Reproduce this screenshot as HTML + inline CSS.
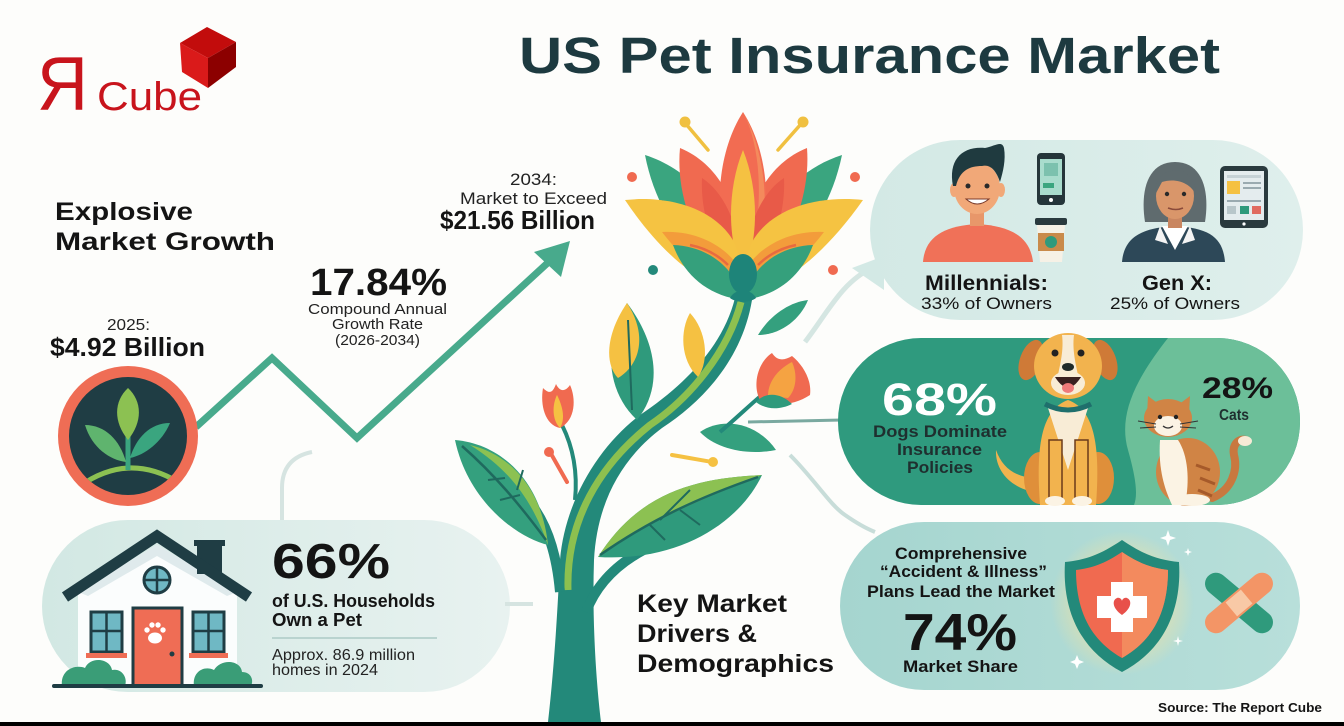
<!DOCTYPE html>
<html><head><meta charset="utf-8"><style>
html,body{margin:0;padding:0;background:#fdfdfb;}
svg{display:block;}
text{font-family:"Liberation Sans",sans-serif;}
</style></head><body>
<svg width="1344" height="726" viewBox="0 0 1344 726" xmlns="http://www.w3.org/2000/svg">
<defs>
<linearGradient id="hp" x1="0" x2="1" y1="0" y2="0"><stop offset="0" stop-color="#d2e8e3"/><stop offset="1" stop-color="#e8f2f0"/></linearGradient>
<linearGradient id="ip" x1="0" x2="1" y1="0" y2="0"><stop offset="0" stop-color="#a5d5cf"/><stop offset="1" stop-color="#b8dfda"/></linearGradient>
<linearGradient id="dp" x1="0" x2="1" y1="0" y2="0"><stop offset="0" stop-color="#d3e9e5"/><stop offset="1" stop-color="#dfefec"/></linearGradient>
<radialGradient id="glow"><stop offset="0" stop-color="#fbe49a" stop-opacity="0.95"/><stop offset="0.6" stop-color="#fbe49a" stop-opacity="0.5"/><stop offset="1" stop-color="#fbe49a" stop-opacity="0"/></radialGradient>
<clipPath id="pc"><rect x="838" y="338" width="462" height="167" rx="83"/></clipPath>
<clipPath id="cc"><circle cx="128" cy="436" r="59"/></clipPath>
</defs>
<rect width="1344" height="726" fill="#fdfdfb"/>

<!-- Logo -->
<text x="37" y="110" font-size="76" fill="#c8141c" textLength="51" lengthAdjust="spacingAndGlyphs">Я</text>
<text x="97" y="110" font-size="40" fill="#c8141c" textLength="105" lengthAdjust="spacingAndGlyphs">Cube</text>
<polygon points="207,27 236,42 208,58 180,43" fill="#c20c0c"/>
<polygon points="180,43 208,58 208,88 182,72" fill="#da1a1a"/>
<polygon points="208,58 236,42 236,67 208,88" fill="#8c0000"/>

<!-- Title -->
<text x="519" y="73" font-size="51" font-weight="700" fill="#1d3a40" textLength="701" lengthAdjust="spacingAndGlyphs">US Pet Insurance Market</text>

<!-- Explosive Market Growth -->
<text x="55" y="220" font-size="25" font-weight="700" fill="#141414" textLength="138" lengthAdjust="spacingAndGlyphs">Explosive</text>
<text x="55" y="250" font-size="25" font-weight="700" fill="#141414" textLength="220" lengthAdjust="spacingAndGlyphs">Market Growth</text>

<text x="107" y="330" font-size="16" fill="#222" textLength="43" lengthAdjust="spacingAndGlyphs">2025:</text>
<text x="50" y="356" font-size="26" font-weight="700" fill="#141414" textLength="155" lengthAdjust="spacingAndGlyphs">$4.92 Billion</text>

<text x="310" y="295" font-size="38" font-weight="700" fill="#141414" textLength="137" lengthAdjust="spacingAndGlyphs">17.84%</text>
<text x="308" y="314" font-size="15" fill="#222" textLength="139" lengthAdjust="spacingAndGlyphs">Compound Annual</text>
<text x="332" y="329" font-size="15" fill="#222" textLength="91" lengthAdjust="spacingAndGlyphs">Growth Rate</text>
<text x="335" y="345" font-size="15" fill="#222" textLength="85" lengthAdjust="spacingAndGlyphs">(2026-2034)</text>

<text x="510" y="185" font-size="17" fill="#222" textLength="47" lengthAdjust="spacingAndGlyphs">2034:</text>
<text x="460" y="204" font-size="17" fill="#222" textLength="147" lengthAdjust="spacingAndGlyphs">Market to Exceed</text>
<text x="440" y="229" font-size="26" font-weight="700" fill="#141414" textLength="155" lengthAdjust="spacingAndGlyphs">$21.56 Billion</text>

<!-- Zigzag growth line -->
<polyline points="196,427 272,358 357,438 553,258" fill="none" stroke="#48aa8c" stroke-width="7" stroke-linejoin="miter"/>
<polygon points="570,241 534,252 561,277" fill="#48aa8c"/>

<!-- Circle icon -->
<circle cx="128" cy="436" r="70" fill="#ef6d55"/>
<circle cx="128" cy="436" r="59" fill="#1f3d44"/>
<g clip-path="url(#cc)">
<path d="M80,486 Q128,452 178,482" stroke="#8cc152" stroke-width="5" fill="none"/>
</g>
<path d="M128,470 L128,412" stroke="#3aa57f" stroke-width="5" fill="none"/>
<path d="M128,440 C112,420 115,400 128,388 C141,400 144,420 128,440Z" fill="#8cc152"/>
<path d="M126,462 C110,460 92,448 85,425 C105,425 120,440 126,462Z" fill="#5fb46e"/>
<path d="M130,458 C145,455 162,442 170,423 C150,423 136,438 130,458Z" fill="#3aa57f"/>

<!-- House pill -->
<path d="M282,521 L282,488 Q282,458 312,452" stroke="#d6e4e1" stroke-width="4" fill="none"/>
<rect x="42" y="520" width="468" height="172" rx="86" fill="url(#hp)"/>
<line x1="505" y1="604" x2="533" y2="604" stroke="#d6e4e1" stroke-width="4"/>

<!-- House -->
<polygon points="78,592 157,545 237,592 237,686 78,686" fill="#fbfdfd"/>
<polygon points="157,545 78,592 88,596 157,556 227,596 237,592" fill="#dfeaec"/>
<rect x="197" y="544" width="25" height="30" fill="#1f3d44"/>
<rect x="194" y="540" width="31" height="6" fill="#1f3d44"/>
<polyline points="65,597 157,536 249,597" fill="none" stroke="#1f3d44" stroke-width="11" stroke-linejoin="miter"/>
<circle cx="157" cy="580" r="13" fill="#6fb8c4" stroke="#1f3d44" stroke-width="3"/>
<line x1="144" y1="580" x2="170" y2="580" stroke="#1f3d44" stroke-width="2.5"/>
<line x1="157" y1="567" x2="157" y2="593" stroke="#1f3d44" stroke-width="2.5"/>
<rect x="133" y="608" width="49" height="78" fill="#ef6d55" stroke="#1f3d44" stroke-width="3"/>
<ellipse cx="155" cy="638" rx="7" ry="5.5" fill="#fff"/>
<circle cx="147" cy="630" r="2.7" fill="#fff"/><circle cx="152" cy="625" r="2.7" fill="#fff"/>
<circle cx="158" cy="625" r="2.7" fill="#fff"/><circle cx="163" cy="630" r="2.7" fill="#fff"/>
<circle cx="172" cy="654" r="2.5" fill="#1f3d44"/>
<rect x="91" y="612" width="31" height="40" fill="#6fb8c4" stroke="#1f3d44" stroke-width="3"/>
<line x1="106.5" y1="612" x2="106.5" y2="652" stroke="#1f3d44" stroke-width="2.5"/>
<line x1="91" y1="631" x2="122" y2="631" stroke="#1f3d44" stroke-width="2.5"/>
<rect x="193" y="612" width="31" height="40" fill="#6fb8c4" stroke="#1f3d44" stroke-width="3"/>
<line x1="208.5" y1="612" x2="208.5" y2="652" stroke="#1f3d44" stroke-width="2.5"/>
<line x1="193" y1="631" x2="224" y2="631" stroke="#1f3d44" stroke-width="2.5"/>
<rect x="86" y="653" width="41" height="5" fill="#ef6d55"/>
<rect x="189" y="653" width="39" height="5" fill="#ef6d55"/>
<path d="M62,686 C60,670 75,664 85,668 C90,656 110,658 112,670 C122,668 128,678 125,686 Z" fill="#3a9d77"/>
<path d="M194,686 C192,672 204,665 214,670 C221,658 241,660 242,672 C251,672 254,680 251,686 Z" fill="#3a9d77"/>
<line x1="54" y1="686" x2="261" y2="686" stroke="#1f3d44" stroke-width="4" stroke-linecap="round"/>

<text x="272" y="578" font-size="49" font-weight="700" fill="#141414" textLength="118" lengthAdjust="spacingAndGlyphs">66%</text>
<text x="272" y="607" font-size="18" font-weight="700" fill="#141414" textLength="163" lengthAdjust="spacingAndGlyphs">of U.S. Households</text>
<text x="272" y="626" font-size="18" font-weight="700" fill="#141414" textLength="90" lengthAdjust="spacingAndGlyphs">Own a Pet</text>
<line x1="272" y1="638" x2="437" y2="638" stroke="#b9d3cf" stroke-width="2"/>
<text x="272" y="660" font-size="15.5" fill="#222" textLength="143" lengthAdjust="spacingAndGlyphs">Approx. 86.9 million</text>
<text x="272" y="675" font-size="15.5" fill="#222" textLength="106" lengthAdjust="spacingAndGlyphs">homes in 2024</text>

<!-- Connectors right side -->
<path d="M805,342 C828,312 842,282 872,268" stroke="#d5e6e2" stroke-width="5" fill="none"/>
<line x1="748" y1="422" x2="842" y2="420" stroke="#7aa9a0" stroke-width="3"/>
<path d="M790,455 C815,480 830,505 845,515 C855,522 865,528 875,532" stroke="#c8ddd9" stroke-width="4" fill="none"/>

<!-- Tree -->
<path d="M548,722 C555,660 558,600 560,560 C565,500 600,445 640,415 C680,388 722,350 735,298 L752,300 C742,360 702,402 662,428 C622,458 597,502 594,560 C592,620 596,680 601,722 Z" fill="#23897a"/>
<path d="M568,590 C566,520 600,465 650,425 C690,398 728,352 741,302" stroke="#8dc04f" stroke-width="7" fill="none"/>
<path d="M560,592 C556,545 542,512 520,492" stroke="#23897a" stroke-width="10" fill="none"/>
<path d="M586,612 C600,575 632,550 680,535" stroke="#23897a" stroke-width="10" fill="none"/>
<!-- left big leaf -->
<path d="M548,545 C518,538 468,502 455,440 C502,444 542,482 548,545 Z" fill="#34a07e"/>
<path d="M548,545 C542,490 512,455 470,445 C510,470 532,500 548,545 Z" fill="#8cc152"/>
<path d="M546,540 C520,505 495,475 462,446" stroke="#1f6a5e" stroke-width="2.5" fill="none"/>
<path d="M505,478 L488,480 M520,495 L500,500 M517,490 L523,470" stroke="#1f6a5e" stroke-width="2" fill="none"/>
<!-- right big leaf -->
<path d="M598,557 C640,490 700,478 762,475 C740,522 680,562 598,557 Z" fill="#2f9a7c"/>
<path d="M598,557 C640,490 700,478 762,475 C700,500 650,520 598,557 Z" fill="#8cc152"/>
<path d="M600,555 C650,520 700,497 758,477" stroke="#1f6a5e" stroke-width="2.5" fill="none"/>
<path d="M650,525 L665,540 M680,510 L700,525 M660,520 L690,490" stroke="#1f6a5e" stroke-width="2" fill="none"/>
<!-- small leaf right of stem -->
<path d="M700,432 C720,418 755,420 776,450 C745,456 715,448 700,432 Z" fill="#34a07e"/>
<!-- left bud -->
<path d="M575,500 C578,470 572,445 562,425" stroke="#23897a" stroke-width="4" fill="none"/>
<path d="M560,428 C545,425 540,405 543,388 C550,395 553,392 556,384 C560,392 565,392 570,385 C576,398 576,420 560,428 Z" fill="#f06a50"/>
<path d="M560,428 C552,420 552,405 557,395 C562,405 566,418 560,428 Z" fill="#f5c142"/>
<!-- right bud -->
<path d="M720,432 C740,415 755,400 768,390" stroke="#23897a" stroke-width="4" fill="none"/>
<path d="M760,400 C752,385 758,362 772,353 C778,362 785,360 792,356 C803,365 812,380 810,395 C795,405 772,408 760,400 Z" fill="#f06a50"/>
<path d="M768,396 C768,380 780,368 792,362 C798,375 796,390 788,398 Z" fill="#f5a342"/>
<path d="M756,402 C765,392 780,392 792,404 C780,410 766,410 756,402 Z" fill="#2f9a7c"/>
<!-- upper-left leaves -->
<path d="M637,420 C610,395 600,350 627,303 C655,340 665,385 637,420 Z" fill="#2f9a7c"/>
<path d="M627,303 C605,335 605,365 618,378 C640,365 648,335 627,303 Z" fill="#f5c142"/>
<path d="M628,320 L632,410" stroke="#1f6a5e" stroke-width="2" fill="none"/>
<path d="M698,377 C680,360 680,330 690,313 C706,330 710,360 698,377 Z" fill="#f5c142"/>
<path d="M758,335 C770,315 790,302 808,300 C800,320 780,335 758,335 Z" fill="#34a07e"/>
<!-- small decorative sticks -->
<path d="M550,452 L567,482" stroke="#f06a50" stroke-width="4" stroke-linecap="round"/>
<circle cx="549" cy="452" r="5" fill="#f06a50"/>
<path d="M672,455 C690,458 700,460 712,462" stroke="#f5c142" stroke-width="4" stroke-linecap="round" fill="none"/>
<circle cx="713" cy="462" r="5" fill="#f5c142"/>

<!-- Flower -->
<circle cx="632" cy="177" r="5" fill="#f06a50"/>
<circle cx="855" cy="177" r="5" fill="#f06a50"/>
<circle cx="653" cy="270" r="5" fill="#23897a"/>
<circle cx="833" cy="270" r="5" fill="#f06a50"/>
<path d="M708,150 L686,124" stroke="#f0c040" stroke-width="3.5" stroke-linecap="round"/>
<circle cx="685" cy="122" r="5.5" fill="#f0c040"/>
<path d="M778,150 L801,124" stroke="#f0c040" stroke-width="3.5" stroke-linecap="round"/>
<circle cx="803" cy="122" r="5.5" fill="#f0c040"/>
<path d="M743,278 C700,268 658,222 645,155 C692,170 728,212 743,278 Z" fill="#3aa57f"/>
<path d="M743,278 C786,268 828,222 842,155 C795,170 758,212 743,278 Z" fill="#3aa57f"/>
<path d="M743,282 C708,272 672,240 662,200 C700,210 730,240 743,282 Z" fill="#1e7d76"/>
<path d="M743,282 C778,272 814,240 824,200 C786,210 756,240 743,282 Z" fill="#1e7d76"/>
<path d="M743,278 C700,262 675,200 680,148 C722,165 746,215 743,278 Z" fill="#f06a50"/>
<path d="M743,278 C786,262 811,200 807,148 C764,165 740,215 743,278 Z" fill="#f06a50"/>
<path d="M743,282 C712,240 712,160 743,112 C774,160 774,240 743,282 Z" fill="#f26c52"/>
<path d="M743,282 C760,240 768,160 743,112 C770,160 774,240 743,282 Z" fill="#f48a5c"/>
<path d="M743,280 C718,262 700,220 702,178 C728,195 742,235 743,280 Z" fill="#e85a48"/>
<path d="M743,280 C768,262 786,220 784,178 C758,195 744,235 743,280 Z" fill="#e85a48"/>
<path d="M743,275 C727,240 727,190 743,150 C759,190 759,240 743,275 Z" fill="#f5c142"/>
<path d="M740,293 C705,288 664,258 625,200 C672,195 716,210 734,242 C742,262 744,282 740,293 Z" fill="#f5c342"/>
<path d="M740,290 C712,284 685,262 662,232 C695,230 722,245 735,262 C741,275 742,285 740,290 Z" fill="#f39c3b"/>
<path d="M746,293 C781,288 822,258 863,200 C814,195 770,210 752,242 C744,262 742,282 746,293 Z" fill="#f5c342"/>
<path d="M746,290 C774,284 801,262 824,232 C791,230 764,245 751,262 C745,275 744,285 746,290 Z" fill="#f39c3b"/>
<path d="M690,245 C705,248 718,255 728,265 M700,262 C710,265 720,272 728,280" stroke="#e86a40" stroke-width="2.5" fill="none"/>
<path d="M796,245 C781,248 768,255 758,265 M786,262 C776,265 766,272 758,280" stroke="#e86a40" stroke-width="2.5" fill="none"/>
<path d="M743,300 C708,296 684,275 673,245 C706,246 735,266 743,300 Z" fill="#35a07c"/>
<path d="M743,300 C778,296 802,275 813,245 C780,246 751,266 743,300 Z" fill="#35a07c"/>
<ellipse cx="743" cy="274" rx="14" ry="20" fill="#1e8479"/>
<path d="M730,298 C735,288 751,288 756,298 C750,303 736,303 730,298 Z" fill="#1e8479"/>

<!-- Key Market Drivers -->
<text x="637" y="612" font-size="25" font-weight="700" fill="#141414" textLength="150" lengthAdjust="spacingAndGlyphs">Key Market</text>
<text x="637" y="642" font-size="25" font-weight="700" fill="#141414" textLength="120" lengthAdjust="spacingAndGlyphs">Drivers &amp;</text>
<text x="637" y="672" font-size="25" font-weight="700" fill="#141414" textLength="197" lengthAdjust="spacingAndGlyphs">Demographics</text>

<!-- Demographics pill -->
<path d="M884,256 L852,268 L884,290 Z" fill="#d3e9e5"/>
<rect x="870" y="140" width="433" height="180" rx="90" fill="url(#dp)"/>
<!-- man -->
<path d="M923,262 C925,236 945,226 977,224 C1010,226 1030,236 1033,262 Z" fill="#f07158"/>
<rect x="970" y="208" width="14" height="18" fill="#e8976a"/>
<ellipse cx="954" cy="190" rx="4" ry="7" fill="#f1a878"/>
<ellipse cx="1001" cy="190" rx="4" ry="7" fill="#f1a878"/>
<ellipse cx="977" cy="188" rx="23" ry="26" fill="#f1a878"/>
<path d="M953,186 C948,160 962,146 985,148 C995,146 1002,140 1004,148 C1006,160 1003,172 1000,182 C996,170 990,164 982,166 C970,166 960,170 956,186 Z" fill="#1f3a3f"/>
<circle cx="968" cy="186" r="2.5" fill="#2a2a2a"/><circle cx="987" cy="186" r="2.5" fill="#2a2a2a"/>
<path d="M966,199 Q977,209 989,199 Z" fill="#fff" stroke="#7a3a2a" stroke-width="1"/>
<!-- phone -->
<rect x="1037" y="153" width="28" height="52" rx="4" fill="#25353a"/>
<rect x="1040" y="159" width="22" height="36" fill="#a9dccd"/>
<rect x="1044" y="163" width="14" height="13" fill="#7cc1ae"/>
<rect x="1043" y="183" width="11" height="5" fill="#3aa57f"/>
<circle cx="1051" cy="200" r="2" fill="#fff"/>
<!-- cup -->
<rect x="1035" y="218" width="32" height="7" rx="2" fill="#2a3a3e"/>
<path d="M1037,225 L1065,225 L1062,262 L1040,262 Z" fill="#f6f1e6"/>
<rect x="1038" y="233" width="26" height="18" fill="#c98a4a"/>
<circle cx="1051" cy="242" r="6" fill="#2f9a7c"/>
<!-- woman -->
<path d="M1145,222 C1140,190 1148,162 1175,162 C1202,162 1210,190 1205,222 Z" fill="#5f6b6e"/>
<path d="M1122,262 C1124,238 1140,228 1175,226 C1210,228 1223,238 1225,262 Z" fill="#2d4858"/>
<path d="M1162,226 L1175,250 L1188,226 Z" fill="#fff"/>
<path d="M1160,226 L1168,244 L1155,240 Z M1190,226 L1182,244 L1195,240 Z" fill="#f4f4f4"/>
<rect x="1168" y="212" width="14" height="16" fill="#c98660"/>
<ellipse cx="1175" cy="196" rx="19" ry="23" fill="#d9966a"/>
<path d="M1155,195 C1155,172 1170,168 1185,172 C1192,178 1196,185 1196,195 C1190,182 1175,178 1162,182 Z" fill="#5f6b6e"/>
<circle cx="1167" cy="194" r="2.2" fill="#2a2a2a"/><circle cx="1184" cy="194" r="2.2" fill="#2a2a2a"/>
<path d="M1168,208 Q1176,211 1183,208" stroke="#8a4a3a" stroke-width="1.5" fill="none"/>
<!-- tablet -->
<rect x="1220" y="166" width="48" height="62" rx="5" fill="#2a3a3e"/>
<rect x="1224" y="171" width="40" height="49" fill="#e4ecee"/>
<rect x="1227" y="181" width="13" height="13" fill="#f5c142"/>
<rect x="1243" y="182" width="18" height="2" fill="#9aaab0"/><rect x="1243" y="187" width="18" height="2" fill="#9aaab0"/>
<rect x="1227" y="175" width="34" height="3" fill="#c6d2d6"/>
<rect x="1227" y="200" width="34" height="2" fill="#9aaab0"/>
<rect x="1227" y="206" width="9" height="8" fill="#b8c6ca"/><rect x="1240" y="206" width="9" height="8" fill="#2f9a7c"/><rect x="1252" y="206" width="9" height="8" fill="#e06a60"/>
<circle cx="1244" cy="224" r="1.6" fill="#fff"/>
<text x="925" y="290" font-size="21" font-weight="700" fill="#141414" textLength="123" lengthAdjust="spacingAndGlyphs">Millennials:</text>
<text x="921" y="309" font-size="17" fill="#141414" textLength="131" lengthAdjust="spacingAndGlyphs">33% of Owners</text>
<text x="1142" y="290" font-size="21" font-weight="700" fill="#141414" textLength="70" lengthAdjust="spacingAndGlyphs">Gen X:</text>
<text x="1110" y="309" font-size="17" fill="#141414" textLength="130" lengthAdjust="spacingAndGlyphs">25% of Owners</text>

<!-- Pets pill -->
<g clip-path="url(#pc)">
<rect x="838" y="338" width="462" height="167" fill="#2f9a7e"/>
<path d="M1168,338 C1135,380 1118,415 1128,450 C1136,478 1138,495 1134,505 L1300,505 L1300,338 Z" fill="#6cbf99"/>
</g>
<!-- dog -->
<path d="M1035,492 C1010,488 995,470 996,450 C1003,470 1018,478 1038,478 Z" fill="#f2b34e"/>
<ellipse cx="1040" cy="478" rx="16" ry="26" fill="#df8f3a"/>
<ellipse cx="1098" cy="478" rx="16" ry="26" fill="#df8f3a"/>
<path d="M1040,505 C1036,450 1040,410 1068,400 C1096,410 1100,450 1096,505 Z" fill="#f2b34e"/>
<path d="M1048,408 L1088,408 L1068,470 Z" fill="#f8ecd6"/>
<rect x="1049" y="440" width="13" height="62" fill="#f2b34e" stroke="#6b3b1a" stroke-width="1.5"/>
<rect x="1075" y="440" width="13" height="62" fill="#f2b34e" stroke="#6b3b1a" stroke-width="1.5"/>
<ellipse cx="1055" cy="501" rx="10" ry="5" fill="#fbf3e4"/>
<ellipse cx="1082" cy="501" rx="10" ry="5" fill="#fbf3e4"/>
<path d="M1045,404 Q1068,416 1091,404" stroke="#1f6f6c" stroke-width="5" fill="none"/>
<ellipse cx="1031" cy="360" rx="11" ry="21" transform="rotate(20 1031 360)" fill="#cf7a37"/>
<ellipse cx="1105" cy="360" rx="11" ry="21" transform="rotate(-20 1105 360)" fill="#cf7a37"/>
<ellipse cx="1068" cy="366" rx="34" ry="33" fill="#f2b34e"/>
<path d="M1062,335 C1064,350 1060,365 1058,375 L1078,375 C1076,365 1072,350 1074,335 Z" fill="#f8ecd6"/>
<ellipse cx="1068" cy="383" rx="17" ry="12" fill="#f8ecd6"/>
<circle cx="1055" cy="353" r="3.5" fill="#222"/><circle cx="1081" cy="353" r="3.5" fill="#222"/>
<ellipse cx="1068" cy="367" rx="6" ry="4" fill="#1f2a2a"/>
<path d="M1055,377 Q1068,398 1081,377 Z" fill="#3a2020"/>
<ellipse cx="1068" cy="388" rx="6" ry="5" fill="#ef7a7a"/>
<!-- cat -->
<path d="M1212,498 C1232,490 1238,470 1234,455 C1232,445 1238,438 1246,440" stroke="#c8783f" stroke-width="8" fill="none" stroke-linecap="round"/>
<ellipse cx="1245" cy="441" rx="7" ry="5" fill="#f6ead6"/>
<ellipse cx="1188" cy="472" rx="32" ry="34" fill="#d08445"/>
<path d="M1160,440 C1158,470 1165,490 1172,505 L1185,505 C1190,480 1188,455 1178,440 Z" fill="#fbf3e4"/>
<path d="M1196,465 L1210,470 M1200,478 L1215,484 M1198,490 L1212,496" stroke="#a65a2a" stroke-width="3"/>
<ellipse cx="1192" cy="500" rx="18" ry="6" fill="#fbf3e4"/>
<path d="M1147,415 L1148,396 L1160,405 Z" fill="#d08445"/>
<path d="M1189,415 L1190,396 L1178,405 Z" fill="#d08445"/>
<ellipse cx="1168" cy="418" rx="24" ry="19" fill="#d08445"/>
<ellipse cx="1168" cy="426" rx="14" ry="10" fill="#fbf3e4"/>
<circle cx="1160" cy="417" r="2.2" fill="#222"/><circle cx="1176" cy="417" r="2.2" fill="#222"/>
<path d="M1163,426 Q1168,430 1173,426" stroke="#333" stroke-width="1.3" fill="none"/>
<path d="M1138,421 L1156,424 M1140,428 L1156,427 M1198,421 L1180,424 M1196,428 L1180,427" stroke="#333" stroke-width="1"/>
<text x="882" y="415" font-size="45" font-weight="700" fill="#ffffff" textLength="115" lengthAdjust="spacingAndGlyphs">68%</text>
<text x="873" y="437" font-size="17" font-weight="700" fill="#1f2f2f" textLength="134" lengthAdjust="spacingAndGlyphs">Dogs Dominate</text>
<text x="897" y="455" font-size="17" font-weight="700" fill="#1f2f2f" textLength="85" lengthAdjust="spacingAndGlyphs">Insurance</text>
<text x="907" y="473" font-size="17" font-weight="700" fill="#1f2f2f" textLength="66" lengthAdjust="spacingAndGlyphs">Policies</text>
<text x="1202" y="398" font-size="30" font-weight="700" fill="#141414" textLength="71" lengthAdjust="spacingAndGlyphs">28%</text>
<text x="1219" y="420" font-size="16" font-weight="700" fill="#1f2f2f" textLength="30" lengthAdjust="spacingAndGlyphs">Cats</text>

<!-- Insurance pill -->
<rect x="840" y="522" width="460" height="168" rx="84" fill="url(#ip)"/>
<circle cx="1122" cy="603" r="72" fill="url(#glow)"/>
<path d="M1122,540 C1100,555 1085,560 1065,562 C1062,610 1080,650 1122,672 C1164,650 1182,610 1179,562 C1159,560 1144,555 1122,540 Z" fill="#23897a"/>
<path d="M1122,552 C1104,564 1092,568 1076,570 C1076,610 1090,640 1122,658 C1154,640 1168,610 1168,570 C1152,568 1140,564 1122,552 Z" fill="#f06a50"/>
<path d="M1122,552 C1140,564 1152,568 1168,570 C1168,610 1154,640 1122,658 Z" fill="#f38a5e"/>
<rect x="1111" y="582" width="22" height="50" fill="#ffffff"/>
<rect x="1097" y="596" width="50" height="22" fill="#ffffff"/>
<path d="M1122,615 C1112,608 1112,600 1117,598 C1120,597 1122,600 1122,601 C1122,600 1124,597 1127,598 C1132,600 1132,608 1122,615 Z" fill="#e8504a"/>
<path d="M1168,530 L1170,536 L1176,538 L1170,540 L1168,546 L1166,540 L1160,538 L1166,536 Z" fill="#fff"/>
<path d="M1188,548 L1189,551 L1192,552 L1189,553 L1188,556 L1187,553 L1184,552 L1187,551 Z" fill="#fff"/>
<path d="M1178,636 L1179,640 L1183,641 L1179,642 L1178,646 L1177,642 L1173,641 L1177,640 Z" fill="#fff"/>
<path d="M1077,655 L1079,660 L1084,662 L1079,664 L1077,669 L1075,664 L1070,662 L1075,660 Z" fill="#fff"/>
<rect x="1198" y="592" width="82" height="22" rx="11" transform="rotate(40 1239 603)" fill="#2f9a7c"/>
<rect x="1198" y="592" width="82" height="22" rx="11" transform="rotate(-40 1239 603)" fill="#f39566"/>
<rect x="1229" y="594" width="20" height="18" transform="rotate(-40 1239 603)" fill="#f8c9a6"/>
<text x="895" y="559" font-size="17" font-weight="700" fill="#141414" textLength="132" lengthAdjust="spacingAndGlyphs">Comprehensive</text>
<text x="880" y="577" font-size="17" font-weight="700" fill="#141414" textLength="167" lengthAdjust="spacingAndGlyphs">“Accident &amp; Illness”</text>
<text x="867" y="597" font-size="17" font-weight="700" fill="#141414" textLength="188" lengthAdjust="spacingAndGlyphs">Plans Lead the Market</text>
<text x="903" y="650" font-size="52" font-weight="700" fill="#141414" textLength="114" lengthAdjust="spacingAndGlyphs">74%</text>
<text x="903" y="672" font-size="17" font-weight="700" fill="#141414" textLength="115" lengthAdjust="spacingAndGlyphs">Market Share</text>

<!-- Source -->
<text x="1158" y="712" font-size="13" font-weight="700" fill="#141414" textLength="164" lengthAdjust="spacingAndGlyphs">Source: The Report Cube</text>

<!-- bottom black bar -->
<rect x="0" y="722" width="1344" height="4" fill="#000"/>
</svg>
</body></html>
